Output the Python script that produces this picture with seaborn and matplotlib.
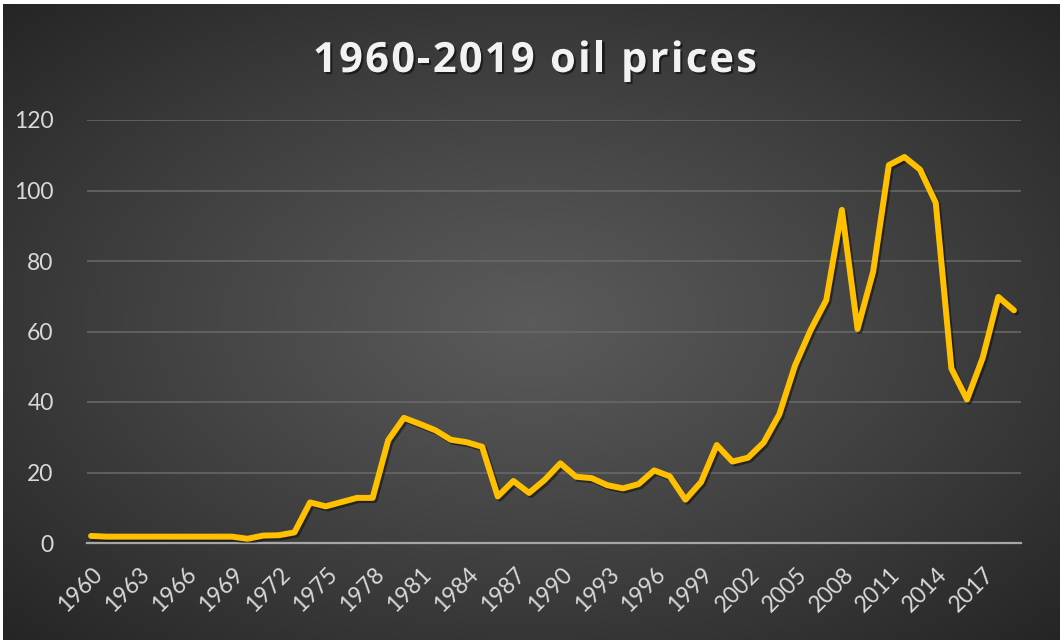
import numpy as np
import pandas as pd
import seaborn as sns
import matplotlib.pyplot as plt
import matplotlib.patheffects as pe
import matplotlib.transforms as mtransforms

years = list(range(1960, 2020))
prices = [
    2.0, 1.8, 1.8, 1.8, 1.8, 1.8, 1.8, 1.8, 1.8, 1.8,
    1.2, 2.1, 2.2, 3.0, 11.5, 10.4, 11.6, 12.8, 12.8, 29.2,
    35.5, 33.8, 32.0, 29.3, 28.6, 27.3, 13.2, 17.6, 14.2, 17.9,
    22.6, 18.8, 18.4, 16.4, 15.5, 16.7, 20.6, 18.9, 12.3, 17.3,
    27.8, 23.1, 24.2, 28.5, 36.5, 50.3, 60.4, 68.9, 94.5, 60.7,
    77.0, 107.2, 109.5, 105.9, 96.5, 49.5, 40.7, 52.5, 69.8, 66.0,
]
tick_years = years[::3]
title = "1960-2019 oil prices"

df = pd.DataFrame({"year": years, "price": prices})

sns.set_style("dark")
plt.rcParams["font.family"] = ["Lato", "DejaVu Sans"]

fig = plt.figure(figsize=(10.6, 6.4), dpi=100, facecolor="white")

# radial gradient background, like the Excel chart area
bg = fig.add_axes([3 / 1060, 0, 1 - 3 / 1060, 1 - 4 / 640], zorder=0)
gx, gy = np.meshgrid(np.linspace(-1, 1, 600), np.linspace(-1, 1, 400))
r = np.clip(np.sqrt(gx ** 2 + gy ** 2) / np.sqrt(2), 0, 1)
shade = 0.355 - (0.355 - 0.145) * r ** 1.1
bg.imshow(np.dstack([shade, shade, shade]), aspect="auto", extent=[0, 1, 0, 1])
bg.set_axis_off()

ax = fig.add_axes([87 / 1060, 1 - 543 / 640, (1021 - 87) / 1060, (543 - 120) / 640], zorder=1)
ax.set_facecolor("none")

sns.lineplot(
    data=df, x="year", y="price", ax=ax,
    color="#FFC000", linewidth=4.3, solid_capstyle="round", solid_joinstyle="round",
    path_effects=[pe.SimpleLineShadow(offset=(1.5, -1.5), shadow_color="black", alpha=0.45),
                  pe.Normal()],
    zorder=3,
)

ax.set_xlim(years[0] - 0.26, years[-1] + 0.45)
ax.set_ylim(0, 120)
ax.set_yticks(range(0, 121, 20))
ax.set_xticks(tick_years)
ax.set_xticklabels([str(y) for y in tick_years], rotation=45, ha="right",
                   rotation_mode="anchor", va="center")
ax.tick_params(axis="both", colors="#D9D9D9", labelsize=16.5, length=0)
ax.tick_params(axis="x", pad=20)
ax.tick_params(axis="y", pad=24)
shift = mtransforms.ScaledTranslation(6 / 72, 0, fig.dpi_scale_trans)
for lbl in ax.get_xticklabels():
    lbl.set_transform(lbl.get_transform() + shift)
ax.grid(axis="y", color="#6A6A6A", linewidth=1.1)
ax.grid(axis="x", visible=False)
for side in ["top", "right", "left"]:
    ax.spines[side].set_visible(False)
ax.spines["bottom"].set_color("#A6A6A6")
ax.spines["bottom"].set_linewidth(1.6)
ax.set_xlabel("")
ax.set_ylabel("")

# title with wider letter spacing, placed char by char (pixel coords)
title_kw = dict(fontsize=30, fontweight="bold", color="#F2F2F2",
                family=["Open Sans", "DejaVu Sans"])
renderer = fig.canvas.get_renderer()


def ink_width(s):
    t = fig.text(0, 0, s, **title_kw)
    w = t.get_window_extent(renderer).width
    t.remove()
    return w


full_w = ink_width(title)
track = (444 - full_w) / (len(title) - 1)
x0 = 535 - 444 / 2
base_y = 640 - 72
for k, ch in enumerate(title):
    if ch == " ":
        continue
    left = ink_width(title[:k + 1]) - ink_width(ch) + k * track
    fig.text(x0 + left, base_y, ch, ha="left", va="baseline",
             transform=mtransforms.IdentityTransform(), **title_kw,
             path_effects=[pe.withSimplePatchShadow(offset=(1.5, -1.5),
                                                    shadow_rgbFace="black", alpha=0.5)])

fig.savefig("out.png", dpi=100, facecolor="white")
